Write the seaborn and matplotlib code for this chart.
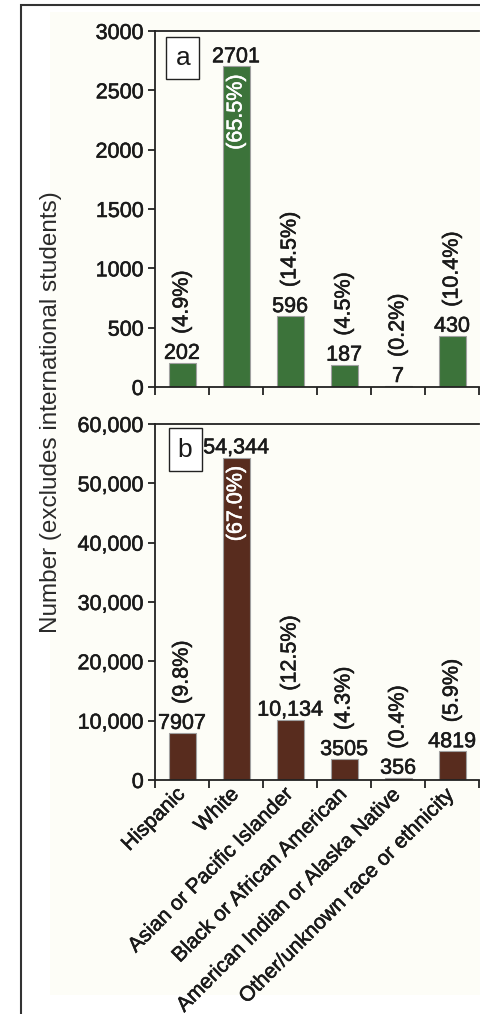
import numpy as np
import pandas as pd
import seaborn as sns
import matplotlib.pyplot as plt
import matplotlib.patheffects as pe
from matplotlib.patches import Rectangle
from matplotlib.ticker import FuncFormatter

# data
groups = ["Hispanic", "White", "Asian or Pacific Islander", "Black or African American",
          "American Indian or Alaska Native", "Other/unknown race or ethnicity"]
counts_a = [202, 2701, 596, 187, 7, 430]
pct_a = [4.9, 65.5, 14.5, 4.5, 0.2, 10.4]
counts_b = [7907, 54344, 10134, 3505, 356, 4819]
pct_b = [9.8, 67.0, 12.5, 4.3, 0.4, 5.9]

sns.set_theme(style="ticks")
plt.rcParams['font.family'] = ['Liberation Sans', 'DejaVu Sans']
plt.rcParams['text.color'] = '#1a1a1a'

INK = '#1a1a1a'
# thicken glyphs a little, the original type is heavier
heavy = [pe.withStroke(linewidth=0.4, foreground=INK)]
heavy_w = [pe.withStroke(linewidth=0.4, foreground='white')]

W, H = 480, 1014
fig = plt.figure(figsize=(W / 100, H / 100), dpi=100, facecolor='white')

# off-white panel + frame
fig.add_artist(Rectangle((50 / W, 1 - 995 / H), 1, (995 - 12) / H, transform=fig.transFigure,
                         facecolor='#fdfdf7', edgecolor='none', zorder=-2))
fig.add_artist(Rectangle((21 / W, -0.05), 1.2, 1.05 - 5 / H, transform=fig.transFigure,
                         fill=False, edgecolor='#333333', linewidth=1.5, zorder=5, clip_on=False))

ax_a = fig.add_axes([155 / W, 1 - 387 / H, 324 / W, 356 / H])
ax_b = fig.add_axes([155 / W, 1 - 780 / H, 324 / W, 356 / H])


def panel(ax, counts, pcts, color, ymax, step, letter, letter_xy, show_x):
    df = pd.DataFrame({"group": groups, "n": counts})
    sns.barplot(data=df, x="group", y="n", color=color, width=0.5, ax=ax,
                edgecolor='#a0a0a0', linewidth=0.8, saturation=1)
    ax.set_facecolor('#fdfdf7')
    ax.set_xlim(-0.5, 5.5)
    ax.set_ylim(0, ymax)
    ax.set_yticks(np.arange(0, ymax + 1, step))
    if ymax > 10000:
        ax.yaxis.set_major_formatter(FuncFormatter(lambda v, p: f"{int(v):,}"))
    ax.set_xlabel("")
    ax.set_ylabel("")
    for s in ["left", "bottom", "top"]:
        ax.spines[s].set_color('#222222')
        ax.spines[s].set_linewidth(1.3)
    ax.spines["right"].set_visible(False)
    ax.tick_params(axis='y', direction='out', length=5, width=1.3, color='#222222',
                   labelsize=15.5, pad=3, labelcolor=INK)
    ax.set_xticks(np.arange(-0.5, 6, 1), minor=True)
    ax.tick_params(axis='x', which='minor', direction='out', length=6, width=1.3, color='#222222')
    ax.tick_params(axis='x', which='major', length=0, pad=8)
    ax.set_xticks(range(6))
    if show_x:
        ax.set_xticklabels(groups, rotation=45, ha='right', va='center',
                           rotation_mode='anchor', fontsize=15, color=INK)
    else:
        ax.set_xticklabels([])
    for t in ax.get_yticklabels() + ax.get_xticklabels():
        t.set_path_effects(heavy)

    top = int(np.argmax(counts))
    for i, (v, p) in enumerate(zip(counts, pcts)):
        lab = f"{v:,}" if v >= 10000 else str(v)
        ax.annotate(lab, (i, v), xytext=(0, 3), textcoords='offset points',
                    ha='center', va='baseline', fontsize=15.5, path_effects=heavy)
        if i == top:
            ax.annotate(f"({p:.1f}%)", (i, v), xytext=(0, -6), textcoords='offset points',
                        ha='center', va='top', rotation=90, fontsize=15.5, color='white',
                        path_effects=heavy_w)
        else:
            ax.annotate(f"({p:.1f}%)", (i, v), xytext=(0, 21), textcoords='offset points',
                        ha='center', va='bottom', rotation=90, fontsize=15.5, path_effects=heavy)

    ax.text(letter_xy[0], letter_xy[1], letter, transform=ax.transAxes, fontsize=19,
            ha='center', va='center',
            bbox=dict(boxstyle='square,pad=0.35', facecolor='white', edgecolor='#222222', linewidth=1))


panel(ax_a, counts_a, pct_a, '#3c733a', 3000, 500, 'a', (0.086, 0.924), False)
panel(ax_b, counts_b, pct_b, '#582c1e', 60000, 10000, 'b', (0.093, 0.928), True)

fig.text(51 / W, 1 - 412 / H, "Number (excludes international students)", rotation=90,
         ha='center', va='center', fontsize=17.5, color='#2a2a2a')

fig.savefig("out.png", dpi=100, facecolor='white')
